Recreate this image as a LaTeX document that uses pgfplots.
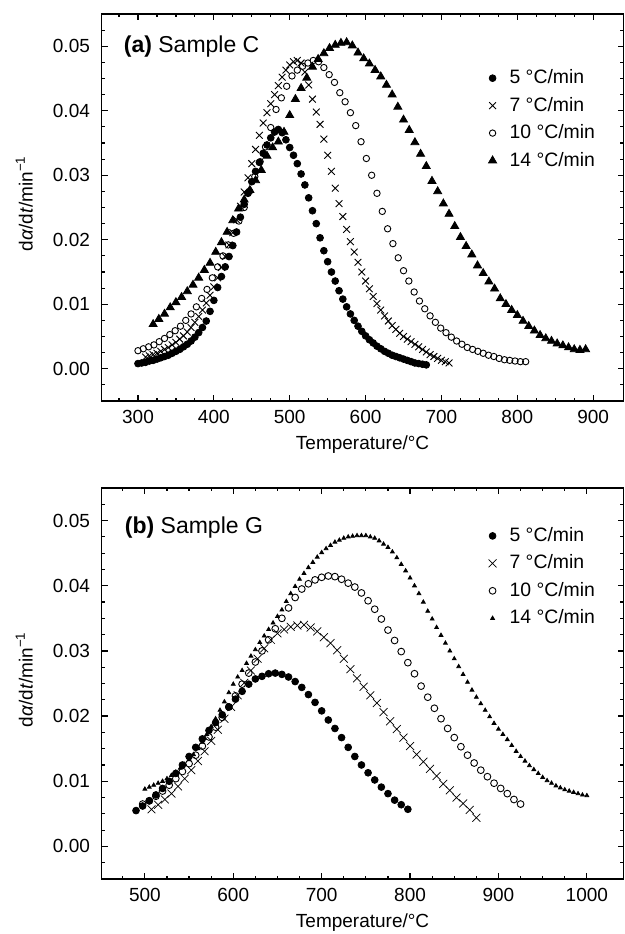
\documentclass[border=0pt]{standalone}
\usepackage{fontspec}
\setmainfont{Liberation Sans}
\usepackage{pgfplots}
\pgfplotsset{compat=1.18}
\begin{document}
\pgfplotsset{
  myaxis/.style={
    scale only axis, width=261pt,
    ymin=-0.005, ymax=0.055,
    ytick distance=0.01, xtick distance=100,
    minor x tick num=3, minor y tick num=3,
    tick align=inside,
    major tick length=3pt, minor tick length=1.7pt,
    every tick/.style={black, line width=0.6pt},
    axis line style={line width=0.9pt},
    /pgf/number format/assume math mode=true,
    tick label style={font=\fontsize{9.5}{11}\selectfont},
    yticklabel style={/pgf/number format/fixed, /pgf/number format/fixed zerofill, /pgf/number format/precision=2, xshift=-2.3pt},
    xticklabel style={/pgf/number format/1000 sep={}, yshift=-1pt},
    scaled y ticks=false,
    xlabel={Temperature/°C},
    ylabel={d\textit{α}/d\textit{t}/min\textsuperscript{−1}},
    label style={font=\fontsize{10.7}{12}\selectfont},
    every axis x label/.style={at={(rel axis cs:0.5,-0.112)}, anchor=center},
    every axis y label/.style={at={(rel axis cs:-0.148,0.51)}, anchor=center, rotate=90},
    legend cell align=left,
    legend image code/.code={\draw[#1] plot coordinates {(4pt,0pt)}; \path[draw=none, fill=none] (0pt,0pt) rectangle (11pt,0.1pt);},
    legend style={draw=none, fill=none, inner sep=0pt, row sep=2.2pt,
      nodes={inner sep=1.5pt}, font=\fontsize{9.7}{11}\selectfont},
  }
}
\begin{tikzpicture}[font=\fontsize{9.5}{11}\selectfont]
\useasboundingbox (-48pt,7pt) rectangle (261.5pt,-460pt);
% ---------------- (a) Sample C ----------------
\begin{axis}[myaxis, at={(0,0)}, anchor=north west, height=193.5pt,
  xmin=252, xmax=940,
  legend style={at={(rel axis cs:0.733,0.865)}, anchor=north west}]
\addplot[only marks, mark=*, mark size=1.7pt, black] coordinates {
(300,0.0008)(305,0.0009)(310,0.0010)(315,0.0012)(320,0.0013)(325,0.0015)(330,0.0017)(335,0.0019)(340,0.0021)(345,0.0024)
(350,0.0027)(355,0.0030)(360,0.0034)(365,0.0038)(370,0.0043)(375,0.0049)(380,0.0056)(385,0.0064)(390,0.0074)(395,0.0089)
(400,0.0106)(405,0.0126)(410,0.0143)(415,0.0158)(420,0.0174)(425,0.0191)(430,0.0212)(435,0.0235)(440,0.0255)(445,0.0272)
(450,0.0290)(455,0.0306)(460,0.0320)(465,0.0334)(470,0.0347)(475,0.0358)(480,0.0367)(485,0.0371)(490,0.0366)(495,0.0355)
(500,0.0343)(505,0.0331)(510,0.0318)(515,0.0302)(520,0.0285)(525,0.0265)(530,0.0245)(535,0.0225)(540,0.0203)(545,0.0183)
(550,0.0166)(555,0.0150)(560,0.0136)(565,0.0121)(570,0.0108)(575,0.0096)(580,0.0085)(585,0.0075)(590,0.0066)(595,0.0058)
(600,0.0051)(605,0.0045)(610,0.0040)(615,0.0035)(620,0.0031)(625,0.0027)(630,0.0024)(635,0.0021)(640,0.0019)(645,0.0017)
(650,0.0015)(655,0.0013)(660,0.0011)(665,0.0009)(670,0.0008)(675,0.0007)(680,0.0006)
};
\addlegendentry{5 °C/min}
\addplot[only marks, mark=x, mark size=2.4pt, black, line width=0.45pt] coordinates {
(310,0.0018)(315,0.0020)(320,0.0022)(325,0.0024)(330,0.0027)(335,0.0030)(340,0.0033)(345,0.0037)(350,0.0041)(355,0.0046)
(360,0.0051)(365,0.0057)(370,0.0064)(375,0.0072)(380,0.0081)(385,0.0091)(390,0.0102)(395,0.0114)(400,0.0127)(405,0.0141)
(410,0.0157)(415,0.0174)(420,0.0192)(425,0.0211)(430,0.0231)(435,0.0252)(440,0.0274)(445,0.0296)(450,0.0318)(455,0.0340)
(460,0.0362)(465,0.0381)(470,0.0397)(475,0.0411)(480,0.0425)(485,0.0439)(490,0.0452)(495,0.0463)(500,0.0471)(505,0.0476)
(510,0.0478)(515,0.0474)(520,0.0460)(525,0.0440)(530,0.0418)(535,0.0398)(540,0.0379)(545,0.0356)(550,0.0331)(555,0.0306)
(560,0.0280)(565,0.0256)(570,0.0236)(575,0.0216)(580,0.0197)(585,0.0181)(590,0.0165)(595,0.0150)(600,0.0136)(605,0.0124)
(610,0.0112)(615,0.0101)(620,0.0091)(625,0.0082)(630,0.0074)(635,0.0067)(640,0.0061)(645,0.0055)(650,0.0050)(655,0.0046)
(660,0.0042)(665,0.0038)(670,0.0034)(675,0.0030)(680,0.0026)(685,0.0022)(690,0.0019)(695,0.0016)(700,0.0013)(705,0.0011)
(710,0.0009)
};
\addlegendentry{7 °C/min}
\addplot[only marks, mark=o, mark size=1.6pt, black, line width=0.45pt] coordinates {
(300,0.0028)(307,0.0031)(314,0.0034)(321,0.0037)(328,0.0042)(335,0.0047)(342,0.0053)(349,0.0059)(356,0.0066)(363,0.0075)
(370,0.0085)(377,0.0096)(384,0.0109)(391,0.0123)(398,0.0141)(405,0.0158)(412,0.0175)(419,0.0192)(426,0.0210)(433,0.0229)
(440,0.0250)(447,0.0275)(454,0.0298)(461,0.0321)(468,0.0344)(475,0.0374)(482,0.0402)(489,0.0420)(496,0.0438)(503,0.0454)
(510,0.0463)(517,0.0469)(524,0.0474)(531,0.0478)(538,0.0476)(545,0.0467)(552,0.0456)(559,0.0444)(566,0.0428)(573,0.0414)
(580,0.0397)(587,0.0377)(594,0.0352)(601,0.0326)(608,0.0300)(615,0.0272)(622,0.0244)(629,0.0217)(636,0.0194)(643,0.0172)
(650,0.0152)(657,0.0136)(664,0.0119)(671,0.0105)(678,0.0093)(685,0.0082)(692,0.0072)(699,0.0063)(706,0.0056)(713,0.0049)
(720,0.0043)(727,0.0038)(734,0.0033)(741,0.0030)(748,0.0027)(755,0.0024)(762,0.0021)(769,0.0019)(776,0.0016)(783,0.0014)
(790,0.0013)(797,0.0012)(804,0.0011)(811,0.0011)
};
\addlegendentry{10 °C/min}
\addplot[only marks, mark=triangle*, mark size=2.3pt, black] coordinates {
(320,0.0069)(327.5,0.0077)(335,0.0085)(342.5,0.0095)(350,0.0103)(357.5,0.0111)(365,0.0120)(372.5,0.0130)(380,0.0141)(387.5,0.0153)
(395,0.0164)(402.5,0.0181)(410,0.0196)(417.5,0.0212)(425,0.0230)(432.5,0.0248)(440,0.0262)(447.5,0.0277)(455,0.0292)(462.5,0.0308)
(470,0.0330)(477.5,0.0343)(485,0.0352)(492.5,0.0367)(500,0.0393)(507.5,0.0418)(515,0.0435)(522.5,0.0451)(530,0.0468)(537.5,0.0480)
(545,0.0489)(552.5,0.0497)(560,0.0502)(567.5,0.0505)(575,0.0506)(582.5,0.0501)(590,0.0490)(597.5,0.0481)(605,0.0473)(612.5,0.0463)
(620,0.0453)(627.5,0.0440)(635,0.0425)(642.5,0.0406)(650,0.0386)(657.5,0.0370)(665,0.0351)(672.5,0.0333)(680,0.0314)(687.5,0.0291)
(695,0.0275)(702.5,0.0256)(710,0.0240)(717.5,0.0221)(725,0.0204)(732.5,0.0190)(740,0.0177)(747.5,0.0160)(755,0.0148)(762.5,0.0135)
(770,0.0124)(777.5,0.0109)(785,0.0100)(792.5,0.0091)(800,0.0083)(807.5,0.0074)(815,0.0066)(822.5,0.0059)(830,0.0052)(837.5,0.0047)
(845,0.0043)(852.5,0.0039)(860,0.0036)(867.5,0.0033)(875,0.0030)(882.5,0.0029)(890,0.0030)
};
\addlegendentry{14 °C/min}
\node[anchor=west, inner sep=0pt, font=\fontsize{11.5}{13}\selectfont] at (rel axis cs:0.042,0.915) {\textbf{(a)} Sample C};
\end{axis}
% ---------------- (b) Sample G ----------------
\begin{axis}[myaxis, at={(0,-237pt)}, anchor=north west, height=195.5pt,
  xmin=451, xmax=1041.5,
  legend style={at={(rel axis cs:0.733,0.908)}, anchor=north west}]
\addplot[only marks, mark=*, mark size=1.7pt, black] coordinates {
(490,0.0055)(497.5,0.0062)(505,0.0070)(512.5,0.0079)(520,0.0089)(527.5,0.0100)(535,0.0112)(542.5,0.0125)(550,0.0138)(557.5,0.0152)
(565,0.0165)(572.5,0.0178)(580,0.0190)(587.5,0.0202)(595,0.0214)(602.5,0.0226)(610,0.0238)(617.5,0.0249)(625,0.0257)(632.5,0.0261)
(640,0.0265)(647.5,0.0266)(655,0.0264)(662.5,0.0260)(670,0.0253)(677.5,0.0244)(685,0.0233)(692.5,0.0221)(700,0.0208)(707.5,0.0194)
(715,0.0181)(722.5,0.0167)(730,0.0152)(737.5,0.0138)(745,0.0125)(752.5,0.0113)(760,0.0102)(767.5,0.0091)(775,0.0081)(782.5,0.0071)
(790,0.0064)(797.5,0.0057)
};
\addlegendentry{5 °C/min}
\addplot[only marks, mark=x, mark size=2.8pt, black, line width=0.35pt] coordinates {
(507.5,0.0057)(515,0.0064)(522.5,0.0072)(530,0.0081)(537.5,0.0092)(545,0.0104)(552.5,0.0117)(560,0.0131)(567.5,0.0146)(575,0.0162)
(582.5,0.0179)(590,0.0196)(597.5,0.0214)(605,0.0232)(612.5,0.0251)(620,0.0270)(627.5,0.0288)(635,0.0304)(642.5,0.0317)(650,0.0327)
(657.5,0.0333)(665,0.0337)(672.5,0.0339)(680,0.0340)(687.5,0.0336)(695,0.0330)(702.5,0.0321)(710,0.0312)(717.5,0.0301)(725,0.0288)
(732.5,0.0272)(740,0.0258)(747.5,0.0245)(755,0.0232)(762.5,0.0220)(770,0.0206)(777.5,0.0192)(785,0.0180)(792.5,0.0167)(800,0.0154)
(807.5,0.0141)(815,0.0130)(822.5,0.0119)(830,0.0108)(837.5,0.0096)(845,0.0086)(852.5,0.0075)(860,0.0066)(867.5,0.0056)(875,0.0044)
};
\addlegendentry{7 °C/min}
\addplot[only marks, mark=o, mark size=1.7pt, black, line width=0.45pt] coordinates {
(497.5,0.0065)(505,0.0070)(512.5,0.0077)(520,0.0085)(527.5,0.0094)(535,0.0104)(542.5,0.0115)(550,0.0127)(557.5,0.0140)(565,0.0154)
(572.5,0.0168)(580,0.0183)(587.5,0.0198)(595,0.0214)(602.5,0.0231)(610,0.0249)(617.5,0.0266)(625,0.0283)(632.5,0.0300)(640,0.0317)
(647.5,0.0334)(655,0.0350)(662.5,0.0366)(670,0.0382)(677.5,0.0395)(685,0.0403)(692.5,0.0409)(700,0.0413)(707.5,0.0415)(715,0.0414)
(722.5,0.0410)(730,0.0404)(737.5,0.0398)(745,0.0389)(752.5,0.0377)(760,0.0364)(767.5,0.0349)(775,0.0332)(782.5,0.0316)(790,0.0299)
(797.5,0.0282)(805,0.0265)(812.5,0.0246)(820,0.0229)(827.5,0.0212)(835,0.0196)(842.5,0.0181)(850,0.0167)(857.5,0.0153)(865,0.0140)
(872.5,0.0128)(880,0.0117)(887.5,0.0107)(895,0.0097)(902.5,0.0089)(910,0.0081)(917.5,0.0072)(925,0.0065)
};
\addlegendentry{10 °C/min}
\addplot[only marks, mark=triangle*, mark size=1.1pt, black] coordinates {
(500,0.0088)(505,0.0091)(510,0.0094)(515,0.0097)(520,0.0100)(525,0.0104)(530,0.0109)(535,0.0114)(540,0.0120)(545,0.0126)
(550,0.0133)(555,0.0141)(560,0.0150)(565,0.0160)(570,0.0172)(575,0.0184)(580,0.0196)(585,0.0209)(590,0.0222)(595,0.0236)
(600,0.0249)(605,0.0260)(610,0.0270)(615,0.0281)(620,0.0292)(625,0.0302)(630,0.0313)(635,0.0323)(640,0.0333)(645,0.0343)
(650,0.0353)(655,0.0363)(660,0.0376)(665,0.0388)(670,0.0399)(675,0.0410)(680,0.0419)(685,0.0428)(690,0.0436)(695,0.0444)
(700,0.0451)(705,0.0457)(710,0.0462)(715,0.0467)(720,0.0470)(725,0.0473)(730,0.0475)(735,0.0476)(740,0.0477)(745,0.0477)
(750,0.0477)(755,0.0475)(760,0.0473)(765,0.0469)(770,0.0464)(775,0.0459)(780,0.0452)(785,0.0443)(790,0.0433)(795,0.0423)
(800,0.0412)(805,0.0400)(810,0.0388)(815,0.0375)(820,0.0361)(825,0.0349)(830,0.0336)(835,0.0324)(840,0.0312)(845,0.0300)
(850,0.0288)(855,0.0276)(860,0.0264)(865,0.0252)(870,0.0240)(875,0.0229)(880,0.0219)(885,0.0209)(890,0.0199)(895,0.0189)
(900,0.0180)(905,0.0172)(910,0.0164)(915,0.0155)(920,0.0146)(925,0.0138)(930,0.0131)(935,0.0124)(940,0.0118)(945,0.0112)
(950,0.0106)(955,0.0101)(960,0.0097)(965,0.0093)(970,0.0090)(975,0.0087)(980,0.0085)(985,0.0083)(990,0.0081)(995,0.0079)
(1000,0.0078)
};
\addlegendentry{14 °C/min}
\node[anchor=west, inner sep=0pt, font=\fontsize{11.5}{13}\selectfont] at (rel axis cs:0.044,0.898) {\textbf{(b)} Sample G};
\end{axis}
\end{tikzpicture}
\end{document}
